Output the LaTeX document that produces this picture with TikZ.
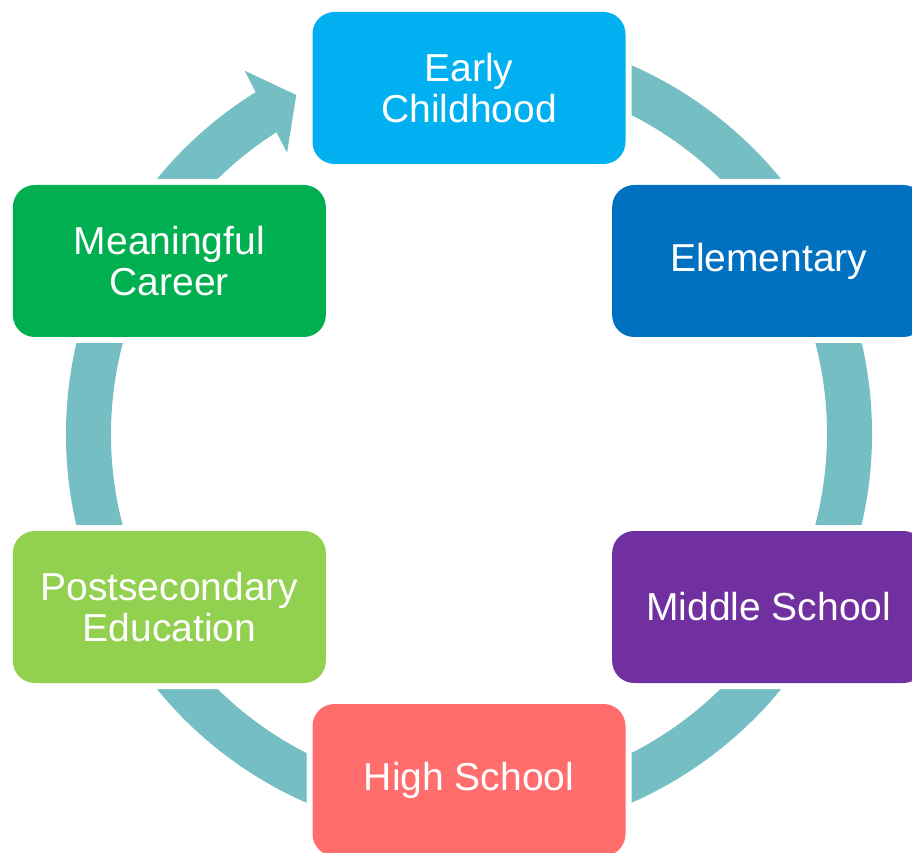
\documentclass[tikz,border=0pt]{standalone}
\usepackage{fontspec}
\setmainfont{Liberation Sans}
\usepackage{tikz}
\usetikzlibrary{calc}

\begin{document}
\begin{tikzpicture}[x=1pt, y=1pt,
    stagebox/.style={rounded corners=22pt, minimum width=313pt, minimum height=152pt,
      text=white, align=center, font=\fontsize{39}{41}\selectfont,
      preaction={draw=white, line width=12pt}},
    ring/.style={line width=45pt, ringteal}]
  % Define colors
  \definecolor{ringteal}{RGB}{116, 190, 196}
  \definecolor{ecblue}{RGB}{0, 176, 240}
  \definecolor{elemblue}{RGB}{0, 112, 192}
  \definecolor{msviolet}{RGB}{112, 48, 160}
  \definecolor{hsred}{RGB}{255, 109, 109}
  \definecolor{psgreen}{RGB}{146, 208, 80}
  \definecolor{mcgreen}{RGB}{0, 176, 80}

  \useasboundingbox (0,0) rectangle (912,852);
  \coordinate (ctr) at (469,418);

  % Ring with arrow head
  \draw[ring] ($(ctr)+(121.8:380.5)$) arc[start angle=121.8, end angle=455, radius=380.5];
  \fill[ringteal] ($(ctr)+(122.9:335)$) -- ($(ctr)+(117:380.5)$) -- ($(ctr)+(121.7:427)$) -- cycle;

  % Stages
  \node[stagebox, fill=ecblue] (early) at ($(ctr)+(90:346)$) {Early\\Childhood};
  \node[stagebox, fill=elemblue] (elementary) at ($(ctr)+(30:346)$) {Elementary};
  \node[stagebox, fill=msviolet] (middle) at ($(ctr)+(-30:346)$) {Middle School};
  \node[stagebox, fill=hsred] (high) at ($(ctr)+(-90:346)$) {High School};
  \node[stagebox, fill=psgreen] (postsec) at ($(ctr)+(-150:346)$) {Postsecondary\\Education};
  \node[stagebox, fill=mcgreen] (career) at ($(ctr)+(150:346)$) {Meaningful\\Career};
\end{tikzpicture}
\end{document}
